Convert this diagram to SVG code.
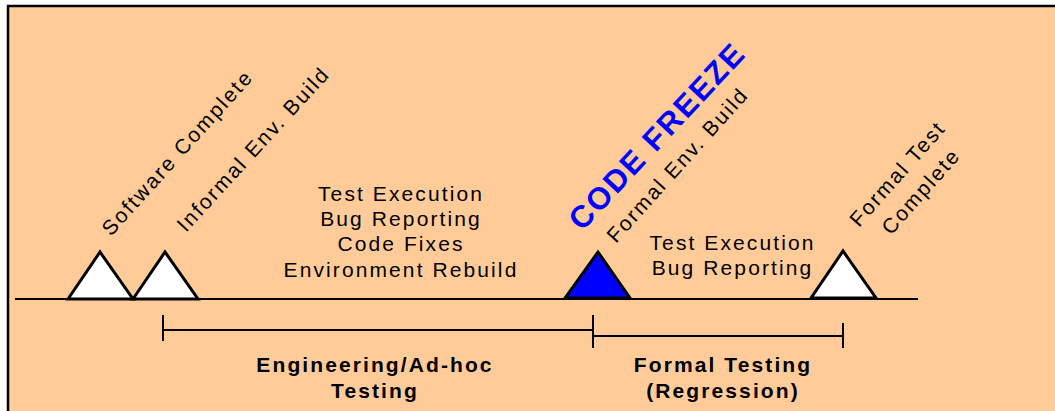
<svg xmlns="http://www.w3.org/2000/svg" width="1055" height="411" viewBox="0 0 1055 411">
<style>
.t{font-family:"Liberation Sans",Arial,sans-serif;font-size:21px;fill:#000;letter-spacing:2.1px}
.b{font-weight:bold}
.c{text-anchor:middle}
.tri{stroke:#000;stroke-width:3;stroke-linejoin:miter}
.ln{stroke:#000;stroke-width:2;fill:none}
</style>
<rect x="0" y="0" width="1055" height="411" fill="#fff"/>
<rect x="8" y="6" width="1060" height="420" fill="#FFCC99" stroke="#000" stroke-width="2.5"/>
<g id="connectors">
<line class="ln" x1="15" y1="299" x2="918" y2="299"/>
<line class="ln" x1="163" y1="330" x2="593" y2="330"/>
<line class="ln" x1="163" y1="315" x2="163" y2="341"/>
<line class="ln" x1="593" y1="315" x2="593" y2="348"/>
<line class="ln" x1="593" y1="336" x2="843" y2="336"/>
<line class="ln" x1="843" y1="323" x2="843" y2="348"/>
</g>
<g id="software-complete">
<polygon class="tri" points="68,299 100,252 133,299" fill="#fff"/>
<text class="t" x="111" y="237" transform="rotate(-48 111 237)">Software Complete</text>
</g>
<g id="informal-env-build">
<polygon class="tri" points="133,299 165,252 198,299" fill="#fff"/>
<text class="t" x="186" y="233" transform="rotate(-47.5 186 233)">Informal Env. Build</text>
</g>
<g id="engineering-activities">
<text class="t c" x="401" y="201">Test Execution</text>
<text class="t c" x="401" y="226">Bug Reporting</text>
<text class="t c" x="401" y="251">Code Fixes</text>
<text class="t c" x="401" y="277">Environment Rebuild</text>
</g>
<g id="code-freeze">
<polygon class="tri" points="565,298 598,252 630,298" fill="#0000FF"/>
<text class="t b" x="582" y="232" transform="rotate(-47 582 232)" style="font-size:31px;fill:#0000FF;letter-spacing:2px">CODE FREEZE</text>
<text class="t" x="616" y="244" transform="rotate(-48 616 244)">Formal Env. Build</text>
</g>
<g id="formal-activities">
<text class="t c" x="732.5" y="250">Test Execution</text>
<text class="t c" x="732.5" y="275">Bug Reporting</text>
</g>
<g id="formal-test-complete">
<polygon class="tri" points="811,298 843,251 876,298" fill="#fff"/>
<text class="t" x="859" y="228" transform="rotate(-48.5 859 228)">Formal Test</text>
<text class="t" x="891" y="236" transform="rotate(-48.5 891 236)">Complete</text>
</g>
<g id="engineering-phase">
<text class="t b c" x="375" y="372">Engineering/Ad-hoc</text>
<text class="t b c" x="375" y="398">Testing</text>
</g>
<g id="formal-phase">
<text class="t b c" x="723" y="372">Formal Testing</text>
<text class="t b c" x="723" y="398">(Regression)</text>
</g>
</svg>
